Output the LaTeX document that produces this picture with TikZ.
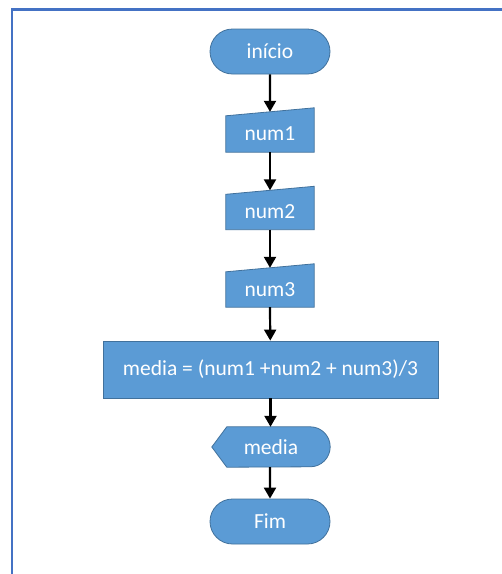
\documentclass[tikz,border=0pt]{standalone}
\usepackage{fontspec}
\setmainfont{Carlito}
\usetikzlibrary{shapes.misc,arrows.meta,calc,backgrounds}
\definecolor{boxfill}{HTML}{5B9BD5}
\definecolor{boxline}{HTML}{41719C}
\definecolor{frameblue}{HTML}{4472C4}
\begin{document}
\begin{tikzpicture}[x=1pt,y=-1pt,
  lbl/.style={text=white,font=\fontsize{21.5}{25}\selectfont,inner sep=0pt},
  term/.style={lbl,rounded rectangle,fill=boxfill,draw=boxline,line width=0.8pt,minimum width=120pt,minimum height=45pt},
  proc/.style={lbl,rectangle,fill=boxfill,draw=boxline,line width=0.8pt},
  shp/.style={fill=boxfill,draw=boxline,line width=0.8pt},
  flow/.style={line width=2.2pt,-{Triangle[width=12pt,length=11pt]}}]
\useasboundingbox (0,0) rectangle (502,574);
\draw[frameblue,line width=2.5pt] (12,574) -- (12,9.5) -- (502,9.5);

\node[term] (start) at (270,51.5) {início};
\node[lbl,minimum width=88pt,minimum height=36pt] (n1) at (270,134) {num1};
\node[lbl,minimum width=88pt,minimum height=35pt] (n2) at (270,212) {num2};
\node[lbl,minimum width=88pt,minimum height=35pt] (n3) at (270,289.5) {num3};
\node[proc,minimum width=335pt,minimum height=57pt] (calc) at (270.5,369.5) {media = (num1 +num2 + num3)/3};
\node[lbl,minimum width=118pt,minimum height=40pt] (disp) at (271,447) {media};
\node[term] (fim) at (270,521.5) {Fim};

\begin{scope}[on background layer]
  \foreach \n in {n1,n2,n3}{
    \draw[shp] (\n.south west) -- (\n.south east) -- ($(\n.north east)+(0,-8)$) -- (\n.north west) -- cycle;
  }
  \draw[shp] (disp.west) -- ($(disp.north west)+(15,0)$) -- ($(disp.north east)+(-20,0)$)
    arc[start angle=90,end angle=-90,radius=20pt] -- ($(disp.south west)+(15,0)$) -- cycle;
\end{scope}

\coordinate (n1top) at ($(n1.north)+(0,-4)$);
\coordinate (n2top) at ($(n2.north)+(0,-4)$);
\coordinate (n3top) at ($(n3.north)+(0,-4)$);

\draw[flow] (start) -- (n1top);
\draw[flow] (n1.south) -- (n2top);
\draw[flow] (n2.south) -- (n3top);
\draw[flow] (n3.south) -- (calc);
\draw[flow] (calc) -- (calc |- disp.north);
\draw[flow] (disp.south -| fim) -- (fim);
\end{tikzpicture}
\end{document}
